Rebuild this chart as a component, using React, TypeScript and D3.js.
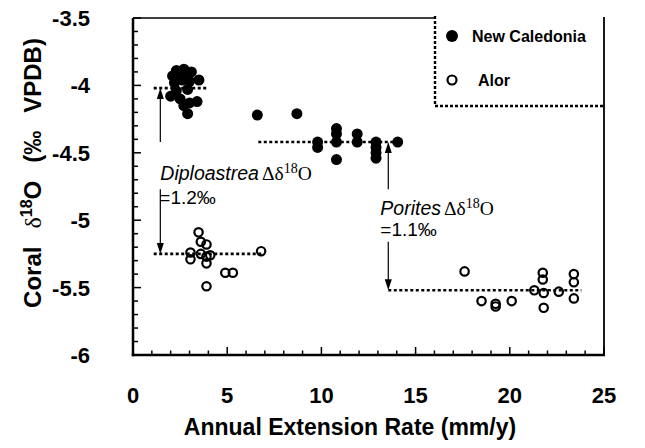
import React from "react";
import * as d3 from "d3";

// ---- data ----
const ncDiploX = [2.1, 2.3, 2.5, 2.7, 2.9, 3.1, 3.5, 2.2, 2.6, 3.0, 2.3, 2.9, 2.0, 3.4, 2.5, 2.7, 3.0, 2.9];
const ncDiploY = [-3.93, -3.89, -3.91, -3.88, -3.92, -3.9, -3.96, -3.98, -3.96, -3.97, -4.04, -4.03, -4.08, -4.12, -4.1, -4.15, -4.13, -4.21];
const ncPorX = [6.6, 8.7, 9.8, 9.8, 10.8, 10.8, 10.8, 10.8, 11.9, 11.9, 12.9, 12.9, 12.9, 12.9, 14.05];
const ncPorY = [-4.22, -4.21, -4.42, -4.46, -4.32, -4.36, -4.42, -4.55, -4.36, -4.42, -4.42, -4.46, -4.5, -4.54, -4.42];
const alDiploX = [3.48, 3.6, 3.9, 3.05, 3.05, 3.6, 3.9, 4.1, 3.9, 4.9, 5.3, 3.9, 6.8];
const alDiploY = [-5.09, -5.16, -5.18, -5.24, -5.29, -5.25, -5.27, -5.26, -5.32, -5.39, -5.39, -5.49, -5.23];
const alPorX = [17.6, 18.5, 19.25, 19.25, 20.1, 21.3, 21.75, 21.75, 21.8, 21.8, 22.6, 23.4, 23.4, 23.4];
const alPorY = [-5.38, -5.6, -5.62, -5.64, -5.6, -5.52, -5.39, -5.44, -5.54, -5.65, -5.53, -5.4, -5.46, -5.58];

const meanX0 = [1.1, 6.65, 1.1, 13.55];
const meanX1 = [4.0, 13.8, 6.85, 23.8];
const meanY = [-4.02, -4.42, -5.25, -5.52];

const xTicks = [0, 5, 10, 15, 20, 25];
const yTicks = [-3.5, -4, -4.5, -5, -5.5, -6];

const W = 645, H = 448;
const L = 133, R = 604, T = 18, B = 355;

export default function App() {
  const x = d3.scaleLinear().domain([0, 25]).range([L, R]);
  const y = d3.scaleLinear().domain([-3.5, -6]).range([T, B]);
  const font = "'Liberation Sans', Arial, sans-serif";
  const serif = "'Liberation Serif', 'Times New Roman', serif";

  const xMinor = d3.range(0, 26, 1);
  const yMinor = d3.range(0, 26).map((i) => -3.5 - i * 0.1);

  const filled = (xs: number[], ys: number[], k: string) =>
    xs.map((v, i) => <circle key={k + i} cx={x(v)} cy={y(ys[i])} r={5.5} fill="#000" />);
  const open = (xs: number[], ys: number[], k: string) =>
    xs.map((v, i) => (
      <circle key={k + i} cx={x(v)} cy={y(ys[i])} r={4.2} fill="none" stroke="#000" strokeWidth={2.2} />
    ));

  const arrow = (xv: number, from: number, to: number, k: string) => {
    const x0 = x(xv), y0 = y(from), y1 = y(to);
    const dir = y1 < y0 ? 1 : -1;
    return (
      <g key={k}>
        <line x1={x0} x2={x0} y1={y0} y2={y1 + dir * 8} stroke="#000" strokeWidth={1.2} />
        <path d={`M${x0},${y1} L${x0 - 3.5},${y1 + dir * 11} L${x0 + 3.5},${y1 + dir * 11} Z`} fill="#000" />
      </g>
    );
  };

  return (
    <svg width={W} height={H} style={{ position: "absolute", left: 0, top: 0 }}>
      <rect width={W} height={H} fill="#fff" />
      {/* frame */}
      <line x1={L} x2={R} y1={T} y2={T} stroke="#000" strokeWidth={1.5} />
      {/* mean lines */}
      {meanY.map((v, i) => (
        <line key={"m" + i} x1={x(meanX0[i])} x2={x(meanX1[i])} y1={y(v)} y2={y(v)} stroke="#000" strokeWidth={2.6} strokeDasharray="3,2.5" />
      ))}
      {filled(ncDiploX, ncDiploY, "a")}
      {filled(ncPorX, ncPorY, "b")}
      {open(alDiploX, alDiploY, "c")}
      {open(alPorX, alPorY, "d")}
      {arrow(1.45, -4.42, -4.02, "ar1")}
      {arrow(1.45, -4.77, -5.25, "ar2")}
      {arrow(13.55, -4.77, -4.42, "ar3")}
      {arrow(13.55, -5.16, -5.52, "ar4")}
      {/* annotations */}
      <text x={x(1.45)} y={180} fontFamily={font} fontSize={19.5}>
        <tspan fontStyle="italic">Diploastrea</tspan>
        <tspan fontFamily={serif} dx={3}>Δδ</tspan>
        <tspan fontFamily={serif} fontSize={14} dy={-7}>18</tspan>
        <tspan fontFamily={serif} dy={7}>O</tspan>
      </text>
      <text x={x(1.45) - 1} y={204} fontFamily={font} fontSize={19}>=1.2‰</text>
      <text x={x(13.55) - 8} y={215} fontFamily={font} fontSize={19.5}>
        <tspan fontStyle="italic">Porites</tspan>
        <tspan fontFamily={serif} dx={3}>Δδ</tspan>
        <tspan fontFamily={serif} fontSize={14} dy={-7}>18</tspan>
        <tspan fontFamily={serif} dy={7}>O</tspan>
      </text>
      <text x={x(13.55) - 8} y={236} fontFamily={font} fontSize={19}>=1.1‰</text>
      {/* legend */}
      <rect x={435} y={14} width={R - 435} height={106 - 14} fill="#fff" />
      <line x1={435} x2={435} y1={16} y2={106} stroke="#000" strokeWidth={2.4} strokeDasharray="3,2" />
      <line x1={435} x2={R} y1={106} y2={106} stroke="#000" strokeWidth={2.4} strokeDasharray="3,2" />
      <circle cx={452} cy={36} r={6} fill="#000" />
      <text x={472} y={42} fontFamily={font} fontSize={16} fontWeight="bold">New Caledonia</text>
      <circle cx={452} cy={80} r={4.5} fill="none" stroke="#000" strokeWidth={2.2} />
      <text x={478} y={86} fontFamily={font} fontSize={16} fontWeight="bold">Alor</text>
      {/* right frame */}
      <line x1={R} x2={R} y1={T - 1} y2={B} stroke="#000" strokeWidth={1.8} />
      {/* ticks */}
      {xMinor.map((v) => (
        <line key={"xt" + v} x1={x(v)} x2={x(v)} y1={B} y2={B - (v % 5 === 0 ? 8 : 4.5)} stroke="#000" strokeWidth={1.5} />
      ))}
      {yMinor.map((v, i) => (
        <line key={"yt" + i} x1={L} x2={L + (i % 5 === 0 ? 8 : 5)} y1={y(v)} y2={y(v)} stroke="#000" strokeWidth={1.5} />
      ))}
      <line x1={L} x2={L} y1={T} y2={B + 1.25} stroke="#000" strokeWidth={2.5} />
      <line x1={L - 1.25} x2={R + 1} y1={B} y2={B} stroke="#000" strokeWidth={2.5} />
      {xTicks.map((v) => (
        <text key={"xl" + v} x={x(v)} y={403} textAnchor="middle" fontFamily={font} fontSize={22} fontWeight="bold">{v}</text>
      ))}
      {yTicks.map((v) => (
        <text key={"yl" + v} x={90} y={y(v) + 8} textAnchor="end" fontFamily={font} fontSize={22} fontWeight="bold">{v}</text>
      ))}
      <text x={350} y={435} textAnchor="middle" fontFamily={font} fontSize={23} fontWeight="bold">
        Annual Extension Rate (mm/y)
      </text>
      <text transform="translate(41,173) rotate(-90)" textAnchor="middle" fontFamily={font} fontSize={24} fontWeight="bold">
        <tspan>Coral</tspan>
        <tspan fontFamily={serif} fontWeight="normal" dx={18}>δ</tspan>
        <tspan fontSize={16} dy={-9}>18</tspan>
        <tspan dy={9}>O</tspan>
        <tspan dx={18}>(‰</tspan>
        <tspan dx={18}>VPDB)</tspan>
      </text>
    </svg>
  );
}
